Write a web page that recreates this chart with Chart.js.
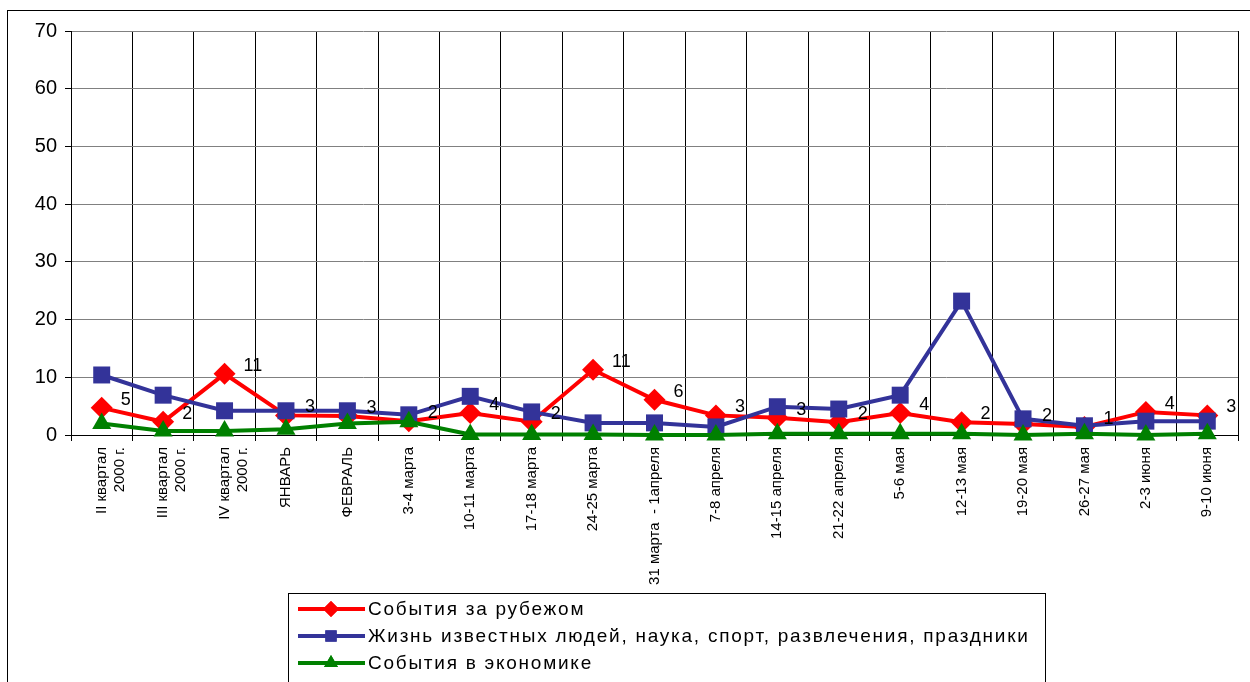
<!DOCTYPE html>
<html>
<head>
<meta charset="utf-8">
<script src="https://cdn.jsdelivr.net/npm/chart.js@4/dist/chart.umd.min.js"></script>
<style>
  html, body { margin: 0; padding: 0; background: #fff; }
  #wrap { position: relative; width: 1250px; height: 682px; }
</style>
</head>
<body>
<div id="wrap"><canvas id="chart" width="1250" height="682"></canvas></div>
<script>
// ===== DATA =====
const categories = [
    ["II квартал", "2000 г."], ["III квартал", "2000 г."], ["IV квартал", "2000 г."],
    "ЯНВАРЬ", "ФЕВРАЛЬ", "3-4 марта", "10-11 марта", "17-18 марта", "24-25 марта",
    "31 марта  - 1апреля", "7-8 апреля", "14-15 апреля", "21-22 апреля",
    "5-6 мая", "12-13 мая", "19-20 мая", "26-27 мая", "2-3 июня", "9-10 июня"
];

const seriesNames = [
    "События за рубежом",
    "Жизнь известных людей, наука, спорт, развлечения, праздники",
    "События в экономике"
];

const abroad = [4.7, 2.3, 10.6, 3.4, 3.3, 2.4, 3.8, 2.3, 11.3, 6.1, 3.4, 3.0, 2.2, 3.8, 2.2, 1.9, 1.4, 4.0, 3.4];
const people = [10.4, 6.9, 4.2, 4.2, 4.2, 3.5, 6.7, 4.0, 2.1, 2.1, 1.4, 4.9, 4.5, 6.9, 23.2, 2.8, 1.6, 2.4, 2.4];
const economy = [2.0, 0.7, 0.7, 1.0, 2.0, 2.3, 0.1, 0.1, 0.1, 0.0, 0.0, 0.2, 0.2, 0.2, 0.2, 0.0, 0.2, 0.0, 0.2];

const yTicks = [0, 10, 20, 30, 40, 50, 60, 70];

const colors = ["#FF0000", "#333399", "#008000"];
const shapes = ["rectRot", "rect", "triangle"];
const radii = [11, 12, 11];

const FONT = "'Liberation Sans', Arial, sans-serif";

// ===== PLUGINS =====
const frame = {
    id: "frame",
    beforeDraw(chart) {
        const ctx = chart.ctx;
        ctx.save();
        ctx.fillStyle = "#fff";
        ctx.fillRect(0, 0, chart.width, chart.height);
        ctx.strokeStyle = "#000";
        ctx.lineWidth = 1;
        ctx.strokeRect(7.5, 10.5, 1300, 700);
        ctx.restore();
    }
};

const valueLabels = {
    id: "valueLabels",
    afterDatasetsDraw(chart) {
        const ctx = chart.ctx;
        const meta = chart.getDatasetMeta(0);
        ctx.save();
        ctx.font = "18px " + FONT;
        ctx.fillStyle = "#000";
        ctx.textAlign = "left";
        ctx.textBaseline = "middle";
        meta.data.forEach((pt, i) => {
            ctx.fillText(String(Math.round(abroad[i])), pt.x + 19, pt.y - 8);
        });
        ctx.restore();
    }
};

const boxLegend = {
    id: "boxLegend",
    afterDraw(chart) {
        const ctx = chart.ctx;
        ctx.save();
        ctx.strokeStyle = "#000";
        ctx.lineWidth = 1;
        ctx.strokeRect(288.5, 593.5, 757, 120);
        ctx.font = "19px " + FONT;
        ctx.textBaseline = "middle";
        ctx.textAlign = "left";
        chart.data.datasets.forEach((ds, i) => {
            const y = 609 + i * 27;
            ctx.strokeStyle = ds.borderColor;
            ctx.lineWidth = 4;
            ctx.beginPath();
            ctx.moveTo(298, y);
            ctx.lineTo(365, y);
            ctx.stroke();
            ctx.fillStyle = ds.borderColor;
            Chart.helpers.drawPoint(ctx, { pointStyle: ds.pointStyle, radius: 8, borderWidth: 0 }, 331, y);
            ctx.fill();
            ctx.fillStyle = "#000";
            ctx.letterSpacing = "1.75px";
            ctx.fillText(seriesNames[i], 368, y + 1);
            ctx.letterSpacing = "0px";
        });
        ctx.restore();
    }
};

// ===== CHART =====
function makeSet(i, data, order) {
    return {
        label: seriesNames[i],
        data: data,
        borderColor: colors[i],
        backgroundColor: colors[i],
        borderWidth: 4,
        pointStyle: shapes[i],
        pointRadius: radii[i],
        pointHoverRadius: radii[i],
        pointBorderWidth: 0,
        tension: 0,
        clip: false,
        order: order
    };
}

new Chart(document.getElementById("chart"), {
    type: "line",
    data: {
        labels: categories,
        datasets: [
            makeSet(0, abroad, 3),
            makeSet(1, people, 2),
            makeSet(2, economy, 1)
        ]
    },
    plugins: [frame, valueLabels, boxLegend],
    options: {
        responsive: false,
        animation: false,
        events: [],
        layout: { padding: { top: 31, right: 4, bottom: 0, left: 0 } },
        plugins: {
            legend: { display: false },
            tooltip: { enabled: false }
        },
        scales: {
            x: {
                offset: true,
                grid: { offset: true, color: "#000", tickColor: "#000", tickLength: 6, lineWidth: 1 },
                border: { color: "#000", width: 1 },
                ticks: {
                    autoSkip: false,
                    minRotation: 90,
                    maxRotation: 90,
                    padding: 6,
                    color: "#000",
                    font: { family: FONT, size: 15 }
                },
                afterFit(scale) { scale.height = 247; }
            },
            y: {
                min: 0,
                max: 70,
                afterBuildTicks(scale) { scale.ticks = yTicks.map(v => ({ value: v })); },
                grid: { color: "#808080", tickColor: "#000", tickLength: 6, lineWidth: 1 },
                border: { color: "#000", width: 1 },
                ticks: {
                    padding: 8,
                    color: "#000",
                    font: { family: FONT, size: 20 }
                },
                afterFit(scale) { scale.width = 71; }
            }
        }
    }
});
</script>
</body>
</html>
